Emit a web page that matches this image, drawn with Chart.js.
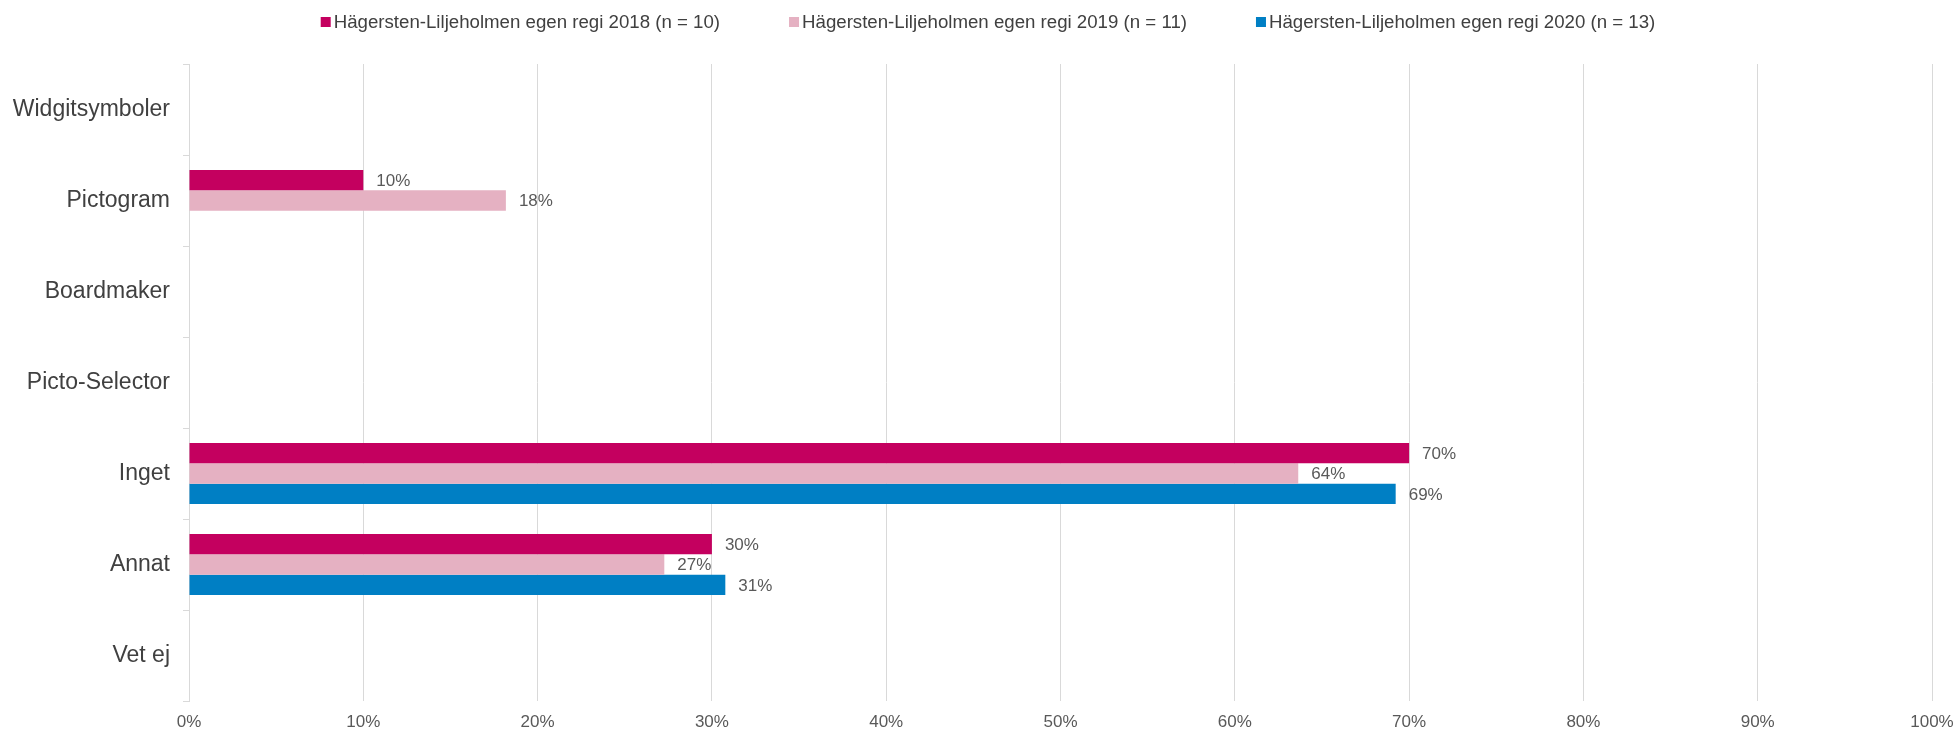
<!DOCTYPE html>
<html>
<head>
<meta charset="utf-8">
<script src="https://cdn.jsdelivr.net/npm/chart.js@4/dist/chart.umd.min.js"></script>
<style>
  body { margin: 0; background: #fff; }
  canvas { display: block; }
</style>
</head>
<body>
<canvas id="chart" width="1954" height="733"></canvas>
<script>
// categories (top to bottom)
const categories = ['Widgitsymboler', 'Pictogram', 'Boardmaker', 'Picto-Selector', 'Inget', 'Annat', 'Vet ej'];

// series names
const seriesNames = [
    'Hägersten-Liljeholmen egen regi 2018 (n = 10)',
    'Hägersten-Liljeholmen egen regi 2019 (n = 11)',
    'Hägersten-Liljeholmen egen regi 2020 (n = 13)'
];

// values in percent, null = no bar
const values2018 = [null, 10, null, null, 70, 30, null];
const values2019 = [null, 18.18, null, null, 63.64, 27.27, null];
const values2020 = [null, null, null, null, 69.23, 30.77, null];

const seriesColors = ['#C4005F', '#E5B1C2', '#007FC4'];

const xTicks = [0, 10, 20, 30, 40, 50, 60, 70, 80, 90, 100];

const fontFamily = '"Liberation Sans", Arial, sans-serif';

// Draws the value labels to the right of each bar
const valueLabels = {
    id: 'valueLabels',
    afterDatasetsDraw(chart) {
        const ctx = chart.ctx;
        ctx.save();
        ctx.font = '17px ' + fontFamily;
        ctx.fillStyle = '#595959';
        ctx.textAlign = 'left';
        ctx.textBaseline = 'middle';
        chart.data.datasets.forEach((ds, i) => {
            const meta = chart.getDatasetMeta(i);
            meta.data.forEach((bar, j) => {
                const v = ds.data[j];
                if (v === null || v === undefined) return;
                ctx.fillText(Math.round(v) + '%', bar.x + 13, bar.y + 1);
            });
        });
        ctx.restore();
    }
};

// Legend along the top, square markers close to the text
const topLegend = {
    id: 'topLegend',
    afterDraw(chart) {
        const ctx = chart.ctx;
        ctx.save();
        ctx.font = '18.66px ' + fontFamily;
        ctx.textBaseline = 'middle';
        const box = 10, boxGap = 3, itemGap = 69;
        const widths = chart.data.datasets.map(ds => ctx.measureText(ds.label).width);
        let total = 0;
        widths.forEach(w => total += box + boxGap + w);
        total += itemGap * (widths.length - 1);
        let x = chart.width / 2 + 11 - total / 2;
        const y = 22;
        chart.data.datasets.forEach((ds, i) => {
            ctx.fillStyle = ds.backgroundColor;
            ctx.fillRect(x, y - box / 2, box, box);
            x += box + boxGap;
            ctx.fillStyle = '#404040';
            ctx.fillText(ds.label, x, y + 1);
            x += widths[i] + itemGap;
        });
        ctx.restore();
    }
};

const ctx = document.getElementById('chart').getContext('2d');
new Chart(ctx, {
    type: 'bar',
    data: {
        labels: categories,
        datasets: [
            { label: seriesNames[0], data: values2018, backgroundColor: seriesColors[0] },
            { label: seriesNames[1], data: values2019, backgroundColor: seriesColors[1] },
            { label: seriesNames[2], data: values2020, backgroundColor: seriesColors[2] }
        ]
    },
    options: {
        indexAxis: 'y',
        responsive: false,
        animation: false,
        categoryPercentage: 0.67,
        barPercentage: 1.0,
        layout: {
            padding: { top: 64, right: 22, left: 0, bottom: 0 }
        },
        plugins: {
            legend: { display: false },
            tooltip: { enabled: false }
        },
        scales: {
            x: {
                min: 0,
                max: 100,
                afterBuildTicks: (scale) => {
                    scale.ticks = xTicks.map(v => ({ value: v }));
                },
                afterFit: (scale) => {
                    scale.height = 32;
                    scale.paddingLeft = 0;
                    scale.paddingRight = 0;
                },
                ticks: {
                    callback: (v) => v + '%',
                    color: '#595959',
                    font: { family: fontFamily, size: 17 },
                    padding: 11,
                    maxRotation: 0
                },
                grid: {
                    color: '#D9D9D9',
                    drawTicks: false
                },
                border: { display: false }
            },
            y: {
                afterFit: (scale) => { scale.width = 189; },
                ticks: {
                    color: '#404040',
                    font: { family: fontFamily, size: 23 },
                    padding: 13
                },
                grid: {
                    offset: true,
                    drawOnChartArea: false,
                    drawTicks: true,
                    tickLength: 6,
                    color: '#D9D9D9'
                },
                border: { display: true, color: '#D9D9D9' }
            }
        }
    },
    plugins: [valueLabels, topLegend]
});
</script>
</body>
</html>
